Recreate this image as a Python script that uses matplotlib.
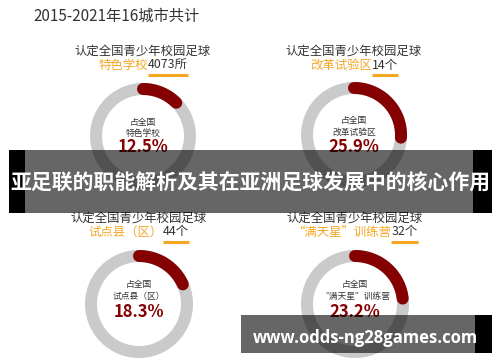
import matplotlib
matplotlib.use("Agg")
import matplotlib.pyplot as plt
import numpy as np
from matplotlib.patches import Rectangle

plt.rcParams['font.family'] = ['Noto Sans CJK SC', 'DejaVu Sans']

title = "2015-2021年16城市共计"
heading = "认定全国青少年校园足球"
categories = ["特色学校", "改革试验区", "试点县（区）", "“满天星”训练营"]
counts = ["4073所", "14个", "44个", "32个"]
shares = [12.5, 25.9, 18.3, 23.2]
banner = "亚足联的职能解析及其在亚洲足球发展中的核心作用"
watermark = "www.odds-ng28games.com"

W, H = 500, 362
RED = "#850000"
RING = "#cacaca"
ORANGE = "#f5a623"
DARK = "#333333"

# ring centre x, y, outer radius, heading y, inner text offsets
layout = [
    (143, 136, 53, 51, (-14, -3, 11)),
    (354, 135, 53, 51, (-15, -3, 12)),
    (139, 304, 54, 218, (-19, -8, 8)),
    (355, 304, 54, 218, (-19, -8, 8)),
]

fig = plt.figure(figsize=(W / 100, H / 100), dpi=100)
ax = fig.add_axes([0, 0, 1, 1])
ax.set_xlim(0, W)
ax.set_ylim(H, 0)
ax.axis("off")

ax.text(33, 16, title, fontsize=11, color=DARK, va="center", ha="left",
        fontweight="medium")

renderer = fig.canvas.get_renderer()


def width_px(t):
    return t.get_window_extent(renderer).width


thick = 12
lw = thick * 72 / 100
for (cx, cy, R, hy, offs), cat, cnt, pct in zip(layout, categories, counts, shares):
    # heading lines
    ax.text(cx, hy, heading, fontsize=8.9, color=DARK, ha="center", va="center")
    t1 = ax.text(0, hy + 14, cat, fontsize=8.9, color=ORANGE, ha="left", va="center",
                 fontweight="medium")
    t2 = ax.text(0, hy + 14, cnt, fontsize=8.9, color=DARK, ha="left", va="center")
    w1, w2 = width_px(t1), width_px(t2)
    x0 = cx - (w1 + w2) / 2
    t1.set_x(x0)
    t2.set_x(x0 + w1)
    ax.plot([x0 + w1, x0 + w1 + w2], [hy + 24, hy + 24], color=ORANGE, lw=2.2,
            solid_capstyle="butt")

    # donut
    pax = fig.add_axes([(cx - R) / W, 1 - (cy + R) / H, 2 * R / W, 2 * R / H],
                       projection="polar")
    pax.set_theta_zero_location("N")
    pax.set_theta_direction(-1)
    pax.set_ylim(0, 1)
    pax.axis("off")
    rmid = (R - thick / 2) / R
    full = np.linspace(0, 2 * np.pi, 300)
    pax.plot(full, np.full_like(full, rmid), color=RING, lw=lw, clip_on=False)
    arc = np.linspace(0, pct / 100 * 2 * np.pi, 200)
    pax.plot(arc, np.full_like(arc, rmid), color=RED, lw=lw, clip_on=False,
             solid_capstyle="round")

    ax.text(cx, cy + offs[0], "占全国", fontsize=6.3, color=DARK, ha="center", va="center")
    ax.text(cx, cy + offs[1], cat, fontsize=6.3, color=DARK, ha="center", va="center")
    ax.text(cx, cy + offs[2], f"{pct}%", fontsize=12, color=RED, fontweight="bold",
            ha="center", va="center")

# overlays
top = fig.add_axes([0, 0, 1, 1], zorder=10)
top.set_xlim(0, W)
top.set_ylim(H, 0)
top.patch.set_alpha(0)
top.axis("off")

top.add_patch(Rectangle((25, 150), 448, 63, color="black", alpha=0.6, lw=0))
top.add_patch(Rectangle((9, 150), 16, 63, color="black", lw=0))
top.add_patch(Rectangle((473, 150), 19, 63, color="black", lw=0))
top.text(250, 183, banner, fontsize=15, color="white", fontweight="bold",
         ha="center", va="center")

top.add_patch(Rectangle((241, 315), 234, 38, color="black", alpha=0.6, lw=0))
top.add_patch(Rectangle((475, 315), 17, 38, color="black", lw=0))
top.text(365, 343, watermark, fontsize=12, color="white", fontweight="bold",
         family="Open Sans", ha="center", va="baseline")

fig.savefig("out.png", dpi=100)
